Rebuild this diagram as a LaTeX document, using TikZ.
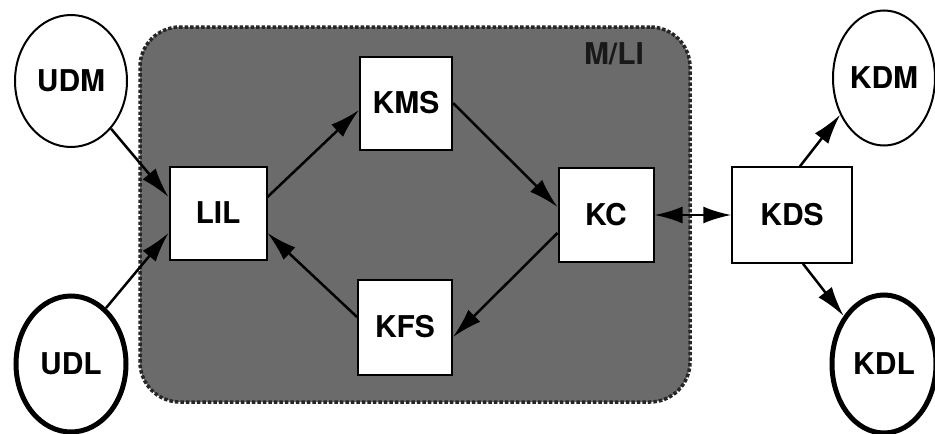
\documentclass[tikz,border=0pt]{standalone}
\usepackage{fontspec}
\setmainfont{TeX Gyre Heros}
\usetikzlibrary{shapes.geometric,arrows.meta}
\tikzset{
  box/.style={draw=black,line width=2pt,fill=white,inner sep=0pt,font=\fontsize{30}{30}\selectfont\bfseries},
  oval/.style={ellipse,draw=black,line width=2pt,fill=white,inner sep=0pt,font=\fontsize{30}{30}\selectfont\bfseries},
  thickoval/.style={oval,line width=5pt},
  conn/.style={line width=2.5pt,-{Latex[length=30pt,width=17pt]}},
  biconn/.style={line width=2.5pt,{Latex[length=28pt,width=17pt]}-{Latex[length=28pt,width=17pt]}},
}
\begin{document}
\begin{tikzpicture}[x=1pt,y=-1pt]
\useasboundingbox (0,0) rectangle (935,434);
\fill[white] (0,0) rectangle (935,434);
% group
\node[draw=black!85,line width=3.5pt,dotted,fill=black!58,rounded corners=40pt,
      minimum width=550pt,minimum height=375pt,inner sep=0pt] (grp) at (415,214.5) {};
\node[font=\fontsize{30}{30}\selectfont\bfseries,text=black!90] (mli) at (614,54) {M/LI};
% nodes
\node[oval,minimum width=112pt,minimum height=132pt] (UDM) at (71,81) {UDM};
\node[thickoval,minimum width=110pt,minimum height=136pt] (UDL) at (71,364) {UDL};
\node[box,minimum width=97pt,minimum height=93pt] (LIL) at (218,213) {LIL};
\node[box,minimum width=92pt,minimum height=93pt] (KMS) at (406,103) {KMS};
\node[box,minimum width=94pt,minimum height=95pt] (KFS) at (405,327) {KFS};
\node[box,minimum width=95pt,minimum height=94pt] (KC) at (606,215) {KC};
\node[box,line width=1.5pt,minimum width=120pt,minimum height=96pt] (KDS) at (792,215) {KDS};
\node[oval,minimum width=102pt,minimum height=135pt] (KDM) at (884,78) {KDM};
\node[thickoval,minimum width=104pt,minimum height=138pt] (KDL) at (884,364) {KDL};
% connectors
\draw[conn] (UDM.-50) -- ([yshift=16pt]LIL.west);
\draw[conn] (UDL.58) -- ([yshift=-20pt]LIL.west);
\draw[conn] ([yshift=16pt]LIL.east) -- ([yshift=-7pt]KMS.west);
\draw[conn] ([yshift=10pt]KFS.west) -- ([yshift=-20pt]LIL.east);
\draw[conn] (KMS.east) -- ([yshift=8pt]KC.west);
\draw[conn] ([yshift=-18pt]KC.west) -- ([yshift=-10pt]KFS.east);
\draw[biconn] (KC.east) -- (KDS.west);
\draw[conn] ([xshift=8pt]KDS.north) -- (KDM.220);
\draw[conn] ([xshift=11pt]KDS.south) -- (KDL.130);
\end{tikzpicture}
\end{document}
